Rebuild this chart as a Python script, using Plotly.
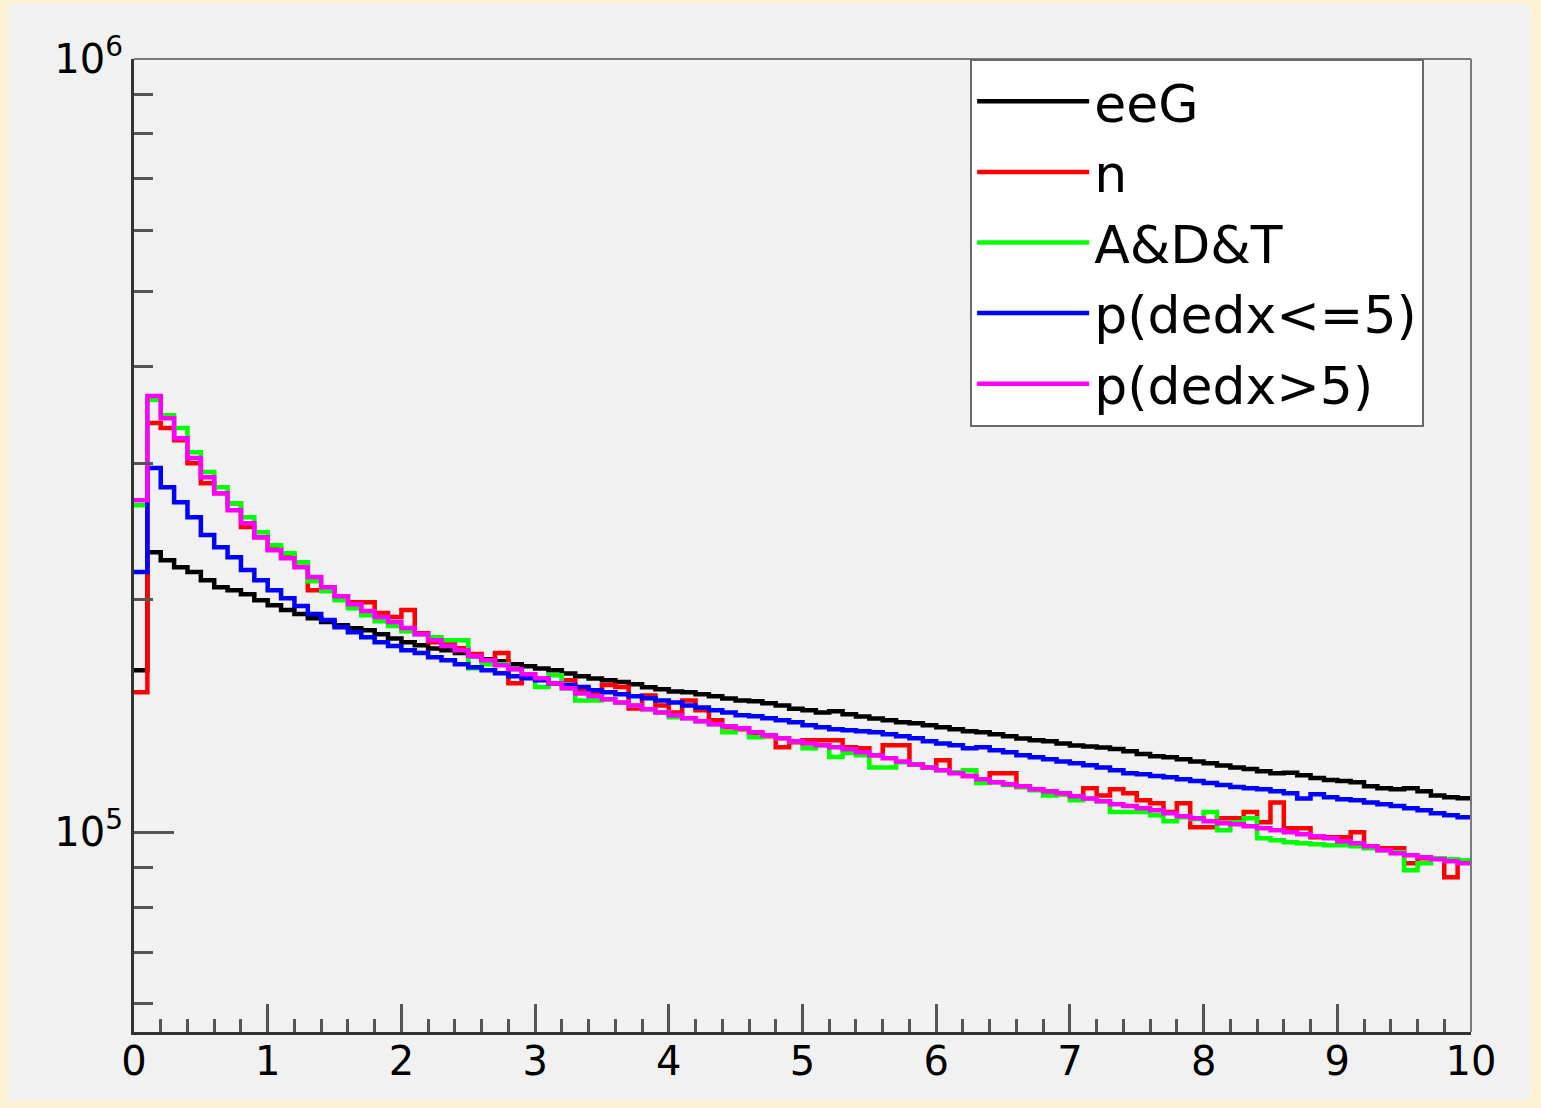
import plotly.graph_objects as go

bin_width = 0.1
n_bins = 100
bin_edges = [round(i * bin_width, 1) for i in range(n_bins + 1)]

eeG = [162000, 230200, 224800, 220100, 217000, 211800, 207400, 205600, 203100, 199600,
       196600, 193800, 191500, 189200, 187000, 185300, 183600, 182500, 180300, 178100,
       176100, 174500, 172900, 172000, 170500, 168900, 167400, 166400, 164900, 163900,
       162900, 162000, 160500, 159100, 158100, 157300, 156400, 155400, 154000, 153100,
       152100, 151700, 150800, 149900, 148900, 148100, 147700, 146800, 145900, 144500,
       143800, 142900, 143400, 142100, 141200, 140300, 139600, 138800, 138400, 137500,
       136700, 135900, 135100, 134700, 133900, 133100, 132200, 131500, 131100, 130300,
       129500, 129100, 128700, 128100, 127300, 126200, 125400, 125000, 124300, 123500,
       122800, 122000, 121300, 120700, 119900, 119200, 119400, 118500, 117500, 116800,
       116500, 116100, 114700, 114000, 113700, 114000, 113000, 111600, 111000, 110700]

n_series = [151700, 338200, 333200, 321400, 300100, 282800, 274500, 266400, 248100, 240800,
            233000, 228200, 223500, 205600, 207400, 202000, 198400, 198400, 192100, 189800,
            193800, 180900, 176100, 175600, 173000, 170000, 166900, 170500, 155900, 159600,
            158200, 155900, 157300, 152600, 151200, 155000, 154100, 144600, 150300, 145900,
            142900, 148100, 143800, 139600, 136700, 135900, 134300, 133100, 128800, 130700,
            131500, 131500, 131500, 128800, 128400, 125800, 129600, 129600, 122400, 121300,
            123900, 119600, 118200, 117100, 119200, 119200, 114400, 113700, 112600, 112000,
            111300, 114000, 111600, 113700, 112300, 110000, 109000, 106200, 109000, 101500,
            101500, 104300, 104300, 106200, 103000, 109300, 101200, 101200, 98520, 98520,
            98520, 100000, 95630, 95350, 95350, 91180, 92550, 92550, 87460, 91450]

adt = [264800, 362200, 346300, 333200, 310100, 292300, 279400, 266400, 255500, 244400,
       235100, 229500, 223500, 211200, 205000, 199600, 194900, 190900, 187500, 184800,
       182000, 180300, 178700, 177200, 177200, 163000, 164900, 164900, 162500, 160100,
       154100, 159600, 153600, 148100, 148100, 148600, 147200, 145900, 144200, 142900,
       140800, 140400, 139200, 137900, 134700, 136300, 132700, 133500, 132300, 131100,
       128400, 129600, 125100, 126600, 125800, 121300, 121300, 123200, 122400, 121300,
       120300, 119600, 120300, 115800, 116100, 115100, 114400, 113300, 111600, 112000,
       110000, 110600, 109700, 106200, 106200, 106200, 105200, 103300, 104600, 104000,
       106200, 100600, 103000, 104300, 98200, 97650, 97070, 96780, 96490, 96210,
       96210, 95920, 95350, 94780, 94220, 89300, 91180, 92550, 92270, 92000]

p_low = [217000, 295800, 279400, 267200, 255500, 242300, 233700, 226800, 218300, 211800,
         205600, 200800, 196100, 191500, 188100, 184200, 181400, 178700, 176100, 174100,
         172000, 170500, 168400, 166900, 164900, 163400, 162000, 160600, 159100, 158200,
         157300, 155900, 155000, 154100, 152600, 151700, 150800, 149900, 149000, 148100,
         147200, 145900, 145000, 143800, 142900, 141700, 141300, 140400, 139600, 138800,
         137500, 136700, 135900, 135500, 135100, 134700, 133900, 133100, 132300, 131100,
         130300, 129600, 128400, 128800, 127700, 126900, 125800, 125000, 124300, 123500,
         122800, 122100, 121300, 120300, 119200, 118900, 118200, 117800, 117100, 116500,
         115800, 115100, 114400, 114000, 113700, 113000, 112300, 110600, 112000, 111000,
         110300, 110000, 109300, 108700, 108100, 107400, 106800, 105800, 105200, 104600]

p_high = [268800, 366500, 343200, 323300, 304700, 287900, 274500, 260900, 251000, 240800,
          231600, 226100, 220200, 213800, 207400, 202000, 197200, 193200, 189800, 187000,
          183700, 180300, 177200, 174100, 172000, 169000, 166900, 164400, 162500, 160100,
          158200, 155900, 153600, 151200, 149900, 148600, 147200, 145900, 144200, 142900,
          141700, 140400, 139200, 137900, 137100, 136300, 134700, 133500, 132300, 131100,
          130300, 129600, 128800, 128000, 126900, 125800, 124700, 123500, 122400, 121300,
          120300, 119200, 118200, 117100, 116100, 115400, 114700, 113700, 113000, 112300,
          111300, 110600, 109700, 108700, 108100, 107400, 106800, 105800, 104900, 104300,
          103300, 102700, 102400, 101800, 101200, 100600, 100000, 99410, 98820, 98230,
          97360, 96780, 95920, 94780, 93940, 93380, 92820, 92270, 91730, 91180]

series_names = ["eeG", "n", "A&D&T", "p(dedx<=5)", "p(dedx>5)"]
series_values = [eeG, n_series, adt, p_low, p_high]
series_colors = ["#000000", "#ff0000", "#00ff00", "#0000ff", "#ff00ff"]

x_tick_vals = list(range(0, 11))
y_tick_vals = [1e5, 1e6]
y_tick_text = ["10<sup>5</sup>", "10<sup>6</sup>"]
y_minor_vals = [6e4, 7e4, 8e4, 9e4, 2e5, 3e5, 4e5, 5e5, 6e5, 7e5, 8e5, 9e5]

FONT = "DejaVu Sans"

fig = go.Figure()
for name, vals, color in zip(series_names, series_values, series_colors):
    fig.add_trace(go.Scatter(
        x=bin_edges, y=vals + [vals[-1]], mode="lines", name=name, legendgroup=name,
        line=dict(color=color, width=4.5, shape="hv"),
    ))

W, H = 1541, 1108
L, R, T, B = 134, 70, 59, 76

fig.update_layout(
    width=W, height=H,
    margin=dict(l=L, r=R, t=T, b=B, pad=0),
    paper_bgcolor="#fdf1d6",
    plot_bgcolor="#f1f1f1",
    showlegend=True,
    legend=dict(
        x=0.6254, y=1.0, xanchor="left", yanchor="top",
        bgcolor="white", bordercolor="#6a6a6a", borderwidth=2,
        font=dict(family=FONT, size=52, color="black"),
        itemwidth=112, tracegroupgap=8, traceorder="normal",
    ),
    xaxis=dict(
        range=[0, 10], tickmode="array", tickvals=x_tick_vals,
        ticks="inside", ticklen=28, tickwidth=3, tickcolor="#555555",
        minor=dict(ticks="inside", ticklen=13, tickwidth=3, tickcolor="#555555",
                   tickmode="linear", tick0=0, dtick=0.2, showgrid=False),
        showgrid=False, zeroline=False, showline=True, linecolor="#333333", linewidth=3,
        tickfont=dict(family=FONT, size=40, color="black"),
        ticklabelstandoff=-8,
    ),
    yaxis=dict(
        type="log", range=[4.7417, 6.0], tickmode="array",
        tickvals=y_tick_vals, ticktext=y_tick_text,
        ticks="inside", ticklen=40, tickwidth=3, tickcolor="#555555",
        minor=dict(ticks="inside", ticklen=19, tickwidth=3, tickcolor="#555555",
                   tickmode="array", tickvals=y_minor_vals, showgrid=False),
        showgrid=False, zeroline=False, showline=True, linecolor="#333333", linewidth=3,
        tickfont=dict(family=FONT, size=40, color="black"),
    ),
    shapes=[
        dict(type="rect", xref="paper", yref="paper",
             x0=-0.0938, x1=1.0441, y0=-0.0702, y1=1.0566,
             fillcolor="#f1f1f1", line=dict(width=0), layer="below"),
        dict(type="line", xref="paper", yref="paper", x0=0, x1=1, y0=1, y1=1,
             line=dict(color="#7a7a7a", width=2), layer="above"),
        dict(type="line", xref="paper", yref="paper", x0=1, x1=1, y0=0, y1=1,
             line=dict(color="#7a7a7a", width=2), layer="above"),
    ],
)

fig.write_html(
    "out.html",
    config={"displayModeBar": False},
    post_script="document.body.style.margin='0';document.body.style.overflow='hidden';document.body.style.background='#fdf1d6';",
)
